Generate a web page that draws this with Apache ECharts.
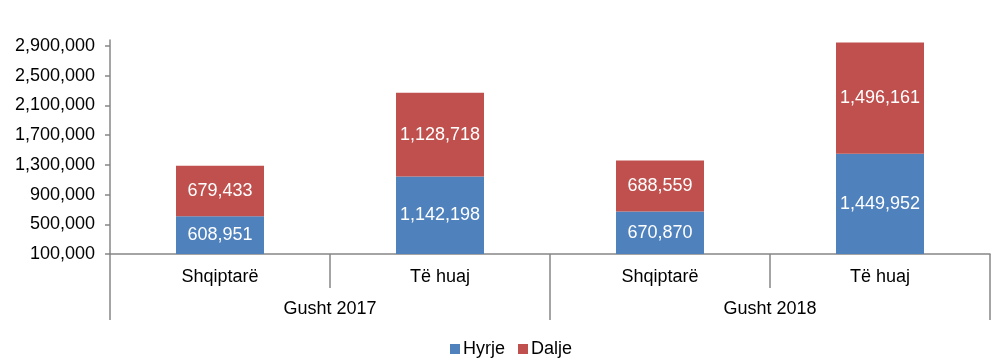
<!DOCTYPE html>
<html>
<head>
<meta charset="utf-8">
<script src="https://cdn.jsdelivr.net/npm/echarts@6/dist/echarts.min.js"></script>
<style>html,body{margin:0;padding:0;background:#fff}#c{width:999px;height:364px}</style>
</head>
<body>
<div id="c"></div>
<script>
const categories = ['Shqiptarë', 'Të huaj', 'Shqiptarë', 'Të huaj'];
const groups = ['Gusht 2017', 'Gusht 2018'];
const hyrje = [608951, 1142198, 670870, 1449952];
const dalje = [679433, 1128718, 688559, 1496161];
const tickValues = [100000, 500000, 900000, 1300000, 1700000, 2100000, 2500000, 2900000];

const fmt = v => Number(v).toLocaleString('en-US');
const FONT = 'Liberation Sans, Arial, sans-serif';
const lineColor = '#878787';

const chart = echarts.init(document.getElementById('c'), null, {renderer: 'canvas'});
chart.setOption({
  animation: false,
  textStyle: {fontFamily: FONT},
  grid: {left: 110, right: 9, top: 40, bottom: 110},
  legend: {
    data: ['Hyrje', 'Dalje'],
    bottom: 1,
    left: 445,
    icon: 'rect',
    itemWidth: 10,
    itemHeight: 10,
    itemGap: 13,
    textStyle: {fontSize: 18, color: '#000', fontFamily: FONT, padding: [0, 0, 0, -2]}
  },
  xAxis: [
    {
      type: 'category',
      data: categories,
      position: 'bottom',
      axisLine: {show: true, lineStyle: {color: lineColor, width: 1.5}},
      axisTick: {show: true, interval: 0, length: 34, lineStyle: {color: lineColor, width: 1.5}},
      axisLabel: {fontSize: 18, color: '#000', margin: 14, fontFamily: FONT, interval: 0}
    },
    {
      type: 'category',
      data: groups,
      position: 'bottom',
      axisLine: {show: false},
      axisTick: {show: true, interval: 0, length: 66, lineStyle: {color: lineColor, width: 1.5}},
      axisLabel: {fontSize: 18, color: '#000', margin: 46, fontFamily: FONT, interval: 0}
    }
  ],
  yAxis: {
    type: 'value',
    min: 100000,
    max: 2980000,
    splitLine: {show: false},
    axisLine: {show: true, lineStyle: {color: lineColor, width: 1.5}},
    axisTick: {show: true, length: 5, customValues: tickValues, lineStyle: {color: lineColor, width: 1.5}},
    axisLabel: {
      customValues: tickValues,
      fontSize: 18, color: '#000', margin: 15, fontFamily: FONT,
      formatter: v => fmt(v)
    }
  },
  series: [
    {
      name: 'Hyrje', type: 'bar', stack: 'total', data: hyrje, barWidth: 88,
      xAxisIndex: 0,
      itemStyle: {color: '#4F81BD'},
      label: {show: true, position: 'inside', color: '#fff', fontSize: 18, fontFamily: FONT, formatter: p => fmt(p.value)}
    },
    {
      name: 'Dalje', type: 'bar', stack: 'total', data: dalje, barWidth: 88,
      xAxisIndex: 0,
      itemStyle: {color: '#C0504D'},
      label: {show: true, position: 'inside', color: '#fff', fontSize: 18, fontFamily: FONT, formatter: p => fmt(p.value)}
    }
  ]
});
</script>
</body>
</html>
